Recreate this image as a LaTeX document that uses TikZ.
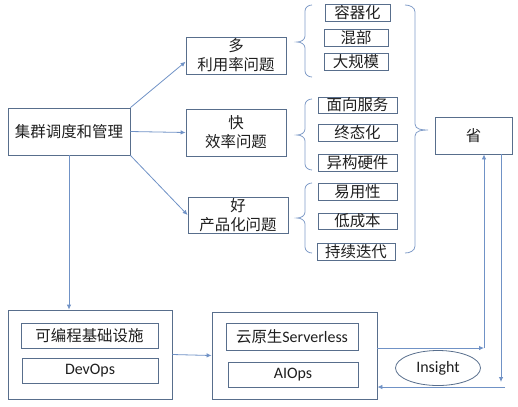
\documentclass[tikz,border=0pt]{standalone}
\usepackage{fontspec}
\setmainfont{Carlito}
\newfontfamily\cjk{Noto Sans CJK SC}
\usetikzlibrary{arrows.meta,shapes.geometric}

\definecolor{boxline}{RGB}{88,110,140}
\definecolor{arrline}{RGB}{112,146,198}
\definecolor{brkline}{RGB}{128,156,200}
\definecolor{txt}{RGB}{30,30,30}

\tikzset{
  box/.style={draw=boxline,line width=0.8bp,inner sep=0pt,align=center,text=txt,
    font=\cjk\fontsize{15.5}{19}\selectfont},
  item/.style={box,font=\cjk\fontsize{15.5}{17}\selectfont},
  latin/.style={font=\fontsize{16}{18}\selectfont},
  frame/.style={draw=boxline,line width=0.8bp,inner sep=0pt},
  arrow/.style={draw=arrline,line width=0.8bp,-{Latex[length=5bp,width=4.5bp]}},
  brk/.style={draw=brkline,line width=0.8bp}
}

\begin{document}
\begin{tikzpicture}[x=1bp,y=-1bp]
  \useasboundingbox (0,0) rectangle (518,406);

  % left column
  \node[box,minimum width=122bp,minimum height=47bp] (main) at (69,131.5) {集群调度和管理};

  % three problems
  \node[box,minimum width=100bp,minimum height=37bp] (duo) at (236,55.5) {多\\利用率问题};
  \node[box,minimum width=100bp,minimum height=47bp] (kuai) at (236,132.5) {快\\效率问题};
  \node[box,minimum width=100bp,minimum height=36bp] (hao) at (238,215) {好\\产品化问题};

  % items
  \node[item,minimum width=65bp,minimum height=17bp] (rqh) at (357.5,12.5) {容器化};
  \node[item,minimum width=64bp,minimum height=17bp] (hb) at (356,37.5) {混部};
  \node[item,minimum width=64bp,minimum height=17bp] (dgm) at (356,61.5) {大规模};

  \node[item,minimum width=79bp,minimum height=16bp] (mxfw) at (357.5,105) {面向服务};
  \node[item,minimum width=79bp,minimum height=17bp] (zth) at (357.5,132.5) {终态化};
  \node[item,minimum width=79bp,minimum height=17bp] (ygyj) at (357.5,162.5) {异构硬件};

  \node[item,minimum width=79bp,minimum height=17bp] (yyx) at (357.5,191.5) {易用性};
  \node[item,minimum width=79bp,minimum height=16bp] (dcb) at (357.5,221) {低成本};
  \node[item,minimum width=78bp,minimum height=17bp] (cxdd) at (356,251.5) {持续迭代};

  % braces
  \draw[brk] (312,5) to[out=180,in=90] (305,11) -- (305,36) to[out=-90,in=0] (297,42)
    to[out=0,in=90] (305,48) -- (305,71) to[out=-90,in=180] (312,77);
  \draw[brk] (312,99) to[out=180,in=90] (305,105) -- (305,129) to[out=-90,in=0] (297,135)
    to[out=0,in=90] (305,141) -- (305,164) to[out=-90,in=180] (312,170);
  \draw[brk] (312,183) to[out=180,in=90] (305,189) -- (305,212) to[out=-90,in=0] (297,218)
    to[out=0,in=90] (305,224) -- (305,247) to[out=-90,in=180] (312,253);
  \draw[brk] (405,5) to[out=0,in=90] (415,12) -- (415,124) to[out=-90,in=180] (428,130)
    to[out=180,in=90] (415,136) -- (415,246) to[out=-90,in=0] (405,253);

  \node[box,minimum width=77bp,minimum height=37bp] (sheng) at (473.5,135.5) {省};

  % bottom row
  \node[frame,minimum width=164bp,minimum height=89bp] (infra) at (90,354.5) {};
  \node[item,minimum width=137bp,minimum height=25bp] (kbc) at (89.5,335.5) {可编程基础设施};
  \node[item,latin,minimum width=136bp,minimum height=25bp] (devops) at (90,370.5) {DevOps};

  \node[frame,minimum width=165bp,minimum height=87bp] (cloud) at (294.5,355.5) {};
  \node[item,latin,minimum width=132bp,minimum height=27bp] (yys) at (292,336.5) {{\cjk\fontsize{15.5}{17}\selectfont 云原生}Serverless};
  \node[item,latin,minimum width=130bp,minimum height=25bp] (aiops) at (293,374.5) {AIOps};

  \node[ellipse,draw=boxline,line width=0.8bp,inner sep=0pt,minimum width=85bp,minimum height=35bp,
    latin,text=txt] (insight) at (438,368) {Insight};

  % connectors
  \draw[arrow] (main.north east) -- (duo.187);
  \draw[arrow] (main.east) -- (kuai.west);
  \draw[arrow] (main.south east) -- (hao.west);
  \draw[arrow] (main.south) -- (main.south |- infra.north);
  \draw[arrow] (infra.east) -- (cloud.west);

  \coordinate (up) at (484,348);
  \coordinate (down) at (501,382);
  \coordinate (back) at (505,387);
  \draw[arrow] (cloud.east |- up) -- (up);
  \draw[arrow] (up) -- (up |- sheng.south);
  \draw[arrow] (down |- sheng.south) -- (down);
  \draw[arrow] (back) -- (back -| cloud.east);
\end{tikzpicture}
\end{document}
